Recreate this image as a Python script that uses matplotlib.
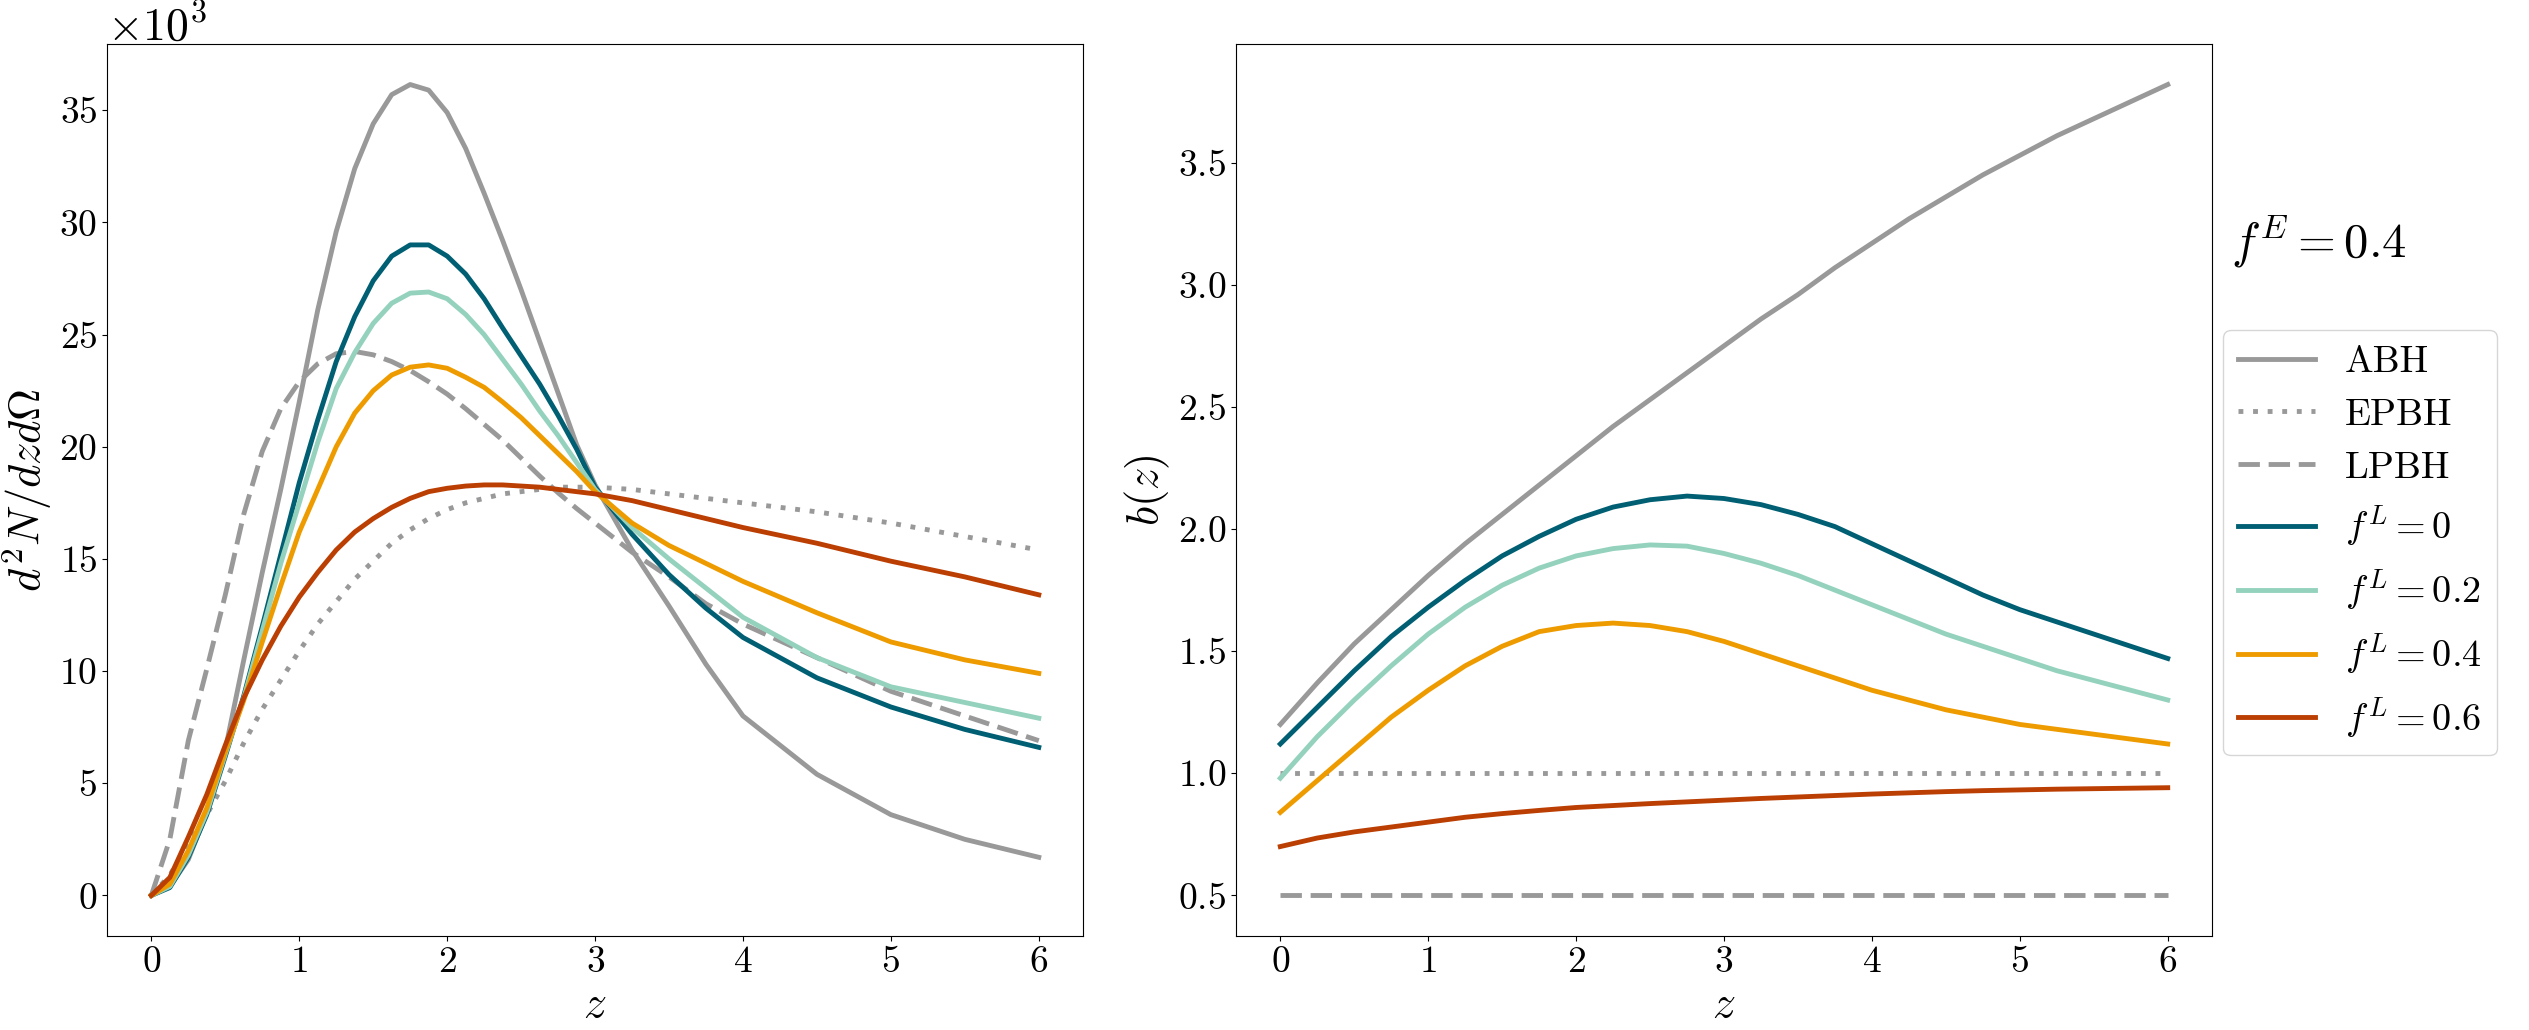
import matplotlib
matplotlib.use("Agg")
import matplotlib.pyplot as plt
import numpy as np

plt.rcParams['font.family'] = 'serif'
plt.rcParams['font.serif'] = ['cmr10']
plt.rcParams['mathtext.fontset'] = 'cm'
plt.rcParams['axes.formatter.use_mathtext'] = True

# colours
gray = '#999999'
c_f0 = '#005f73'
c_f2 = '#94d2bd'
c_f4 = '#ee9b00'
c_f6 = '#bb3e03'

# left panel: d^2N/dzdOmega in units of 1e3
z_left = [0, 0.125, 0.25, 0.375, 0.5, 0.625, 0.75, 0.875, 1.0, 1.125, 1.25, 1.375,
          1.5, 1.625, 1.75, 1.875, 2.0, 2.125, 2.25, 2.375, 2.5, 2.625, 2.75, 2.875,
          3.0, 3.25, 3.5, 3.75, 4.0, 4.5, 5.0, 5.5, 6.0]
n_abh = [0, 0.4, 1.6, 3.7, 6.5, 10.5, 14.4, 18.1, 22.0, 26.1, 29.6, 32.4,
         34.4, 35.7, 36.15, 35.9, 34.9, 33.3, 31.3, 29.2, 27.0, 24.7, 22.4, 20.1,
         18.3, 15.4, 12.9, 10.3, 8.0, 5.4, 3.6, 2.5, 1.7]
n_epbh = [0, 0.9, 2.3, 3.6, 5.1, 6.8, 8.3, 9.6, 10.9, 12.1, 13.1, 14.1,
          14.9, 15.7, 16.3, 16.8, 17.2, 17.5, 17.7, 17.9, 18.0, 18.1, 18.2, 18.2,
          18.2, 18.1, 17.9, 17.7, 17.5, 17.1, 16.6, 16.0, 15.4]
n_lpbh = [0, 2.5, 6.9, 10.1, 13.4, 17.0, 19.8, 21.7, 22.9, 23.7, 24.15, 24.25,
          24.1, 23.8, 23.4, 22.9, 22.35, 21.7, 21.0, 20.3, 19.5, 18.7, 17.95, 17.25,
          16.6, 15.3, 14.2, 13.0, 12.1, 10.6, 9.1, 8.0, 6.9]
n_f0 = [0, 0.35, 1.7, 3.6, 6.2, 8.9, 12.0, 15.2, 18.4, 21.2, 23.8, 25.8,
        27.4, 28.5, 29.0, 29.0, 28.5, 27.7, 26.6, 25.3, 24.05, 22.8, 21.4, 19.9,
        18.2, 16.1, 14.3, 12.8, 11.5, 9.7, 8.4, 7.4, 6.6]
n_f2 = [0, 0.4, 1.8, 3.7, 6.3, 8.8, 11.8, 14.8, 17.5, 20.2, 22.6, 24.2,
        25.5, 26.4, 26.85, 26.9, 26.6, 25.9, 25.0, 23.9, 22.8, 21.6, 20.5, 19.3,
        18.1, 16.4, 15.0, 13.7, 12.4, 10.6, 9.3, 8.6, 7.9]
n_f4 = [0, 0.5, 2.0, 3.9, 6.4, 8.7, 11.3, 13.8, 16.2, 18.1, 20.0, 21.5,
        22.5, 23.2, 23.55, 23.65, 23.5, 23.1, 22.65, 22.0, 21.3, 20.5, 19.7, 18.9,
        18.0, 16.6, 15.6, 14.8, 14.0, 12.6, 11.3, 10.5, 9.9]
n_f6 = [0, 0.8, 2.6, 4.5, 6.7, 8.8, 10.5, 12.0, 13.3, 14.4, 15.4, 16.2,
        16.8, 17.3, 17.7, 18.0, 18.15, 18.25, 18.3, 18.3, 18.25, 18.2, 18.1, 18.0,
        17.9, 17.6, 17.2, 16.8, 16.4, 15.7, 14.9, 14.2, 13.4]

# right panel: bias b(z)
z_right = [0, 0.25, 0.5, 0.75, 1.0, 1.25, 1.5, 1.75, 2.0, 2.25, 2.5, 2.75, 3.0,
           3.25, 3.5, 3.75, 4.0, 4.25, 4.5, 4.75, 5.0, 5.25, 5.5, 5.75, 6.0]
b_abh = [1.20, 1.37, 1.53, 1.67, 1.81, 1.94, 2.06, 2.18, 2.30, 2.42, 2.53, 2.64, 2.75,
         2.86, 2.96, 3.07, 3.17, 3.27, 3.36, 3.45, 3.53, 3.61, 3.68, 3.75, 3.82]
b_epbh = [1.0] * len(z_right)
b_lpbh = [0.5] * len(z_right)
b_f0 = [1.12, 1.27, 1.42, 1.56, 1.68, 1.79, 1.89, 1.97, 2.04, 2.09, 2.12, 2.135, 2.125,
        2.10, 2.06, 2.01, 1.94, 1.87, 1.80, 1.73, 1.67, 1.62, 1.57, 1.52, 1.47]
b_f2 = [0.98, 1.15, 1.30, 1.44, 1.57, 1.68, 1.77, 1.84, 1.89, 1.92, 1.935, 1.93, 1.90,
        1.86, 1.81, 1.75, 1.69, 1.63, 1.57, 1.52, 1.47, 1.42, 1.38, 1.34, 1.30]
b_f4 = [0.84, 0.97, 1.10, 1.23, 1.34, 1.44, 1.52, 1.58, 1.605, 1.615, 1.605, 1.58, 1.54,
        1.49, 1.44, 1.39, 1.34, 1.30, 1.26, 1.23, 1.20, 1.18, 1.16, 1.14, 1.12]
b_f6 = [0.70, 0.735, 0.76, 0.78, 0.80, 0.82, 0.835, 0.848, 0.86, 0.868, 0.876, 0.883, 0.89,
        0.897, 0.903, 0.909, 0.915, 0.92, 0.925, 0.929, 0.932, 0.935, 0.937, 0.939, 0.941]

lw = 3.5
fs = 27
dotted = (0, (1, 2))
dashed = (0, (4.4, 1.8))

fig = plt.figure(figsize=(25.29, 10.30), dpi=100)
ax1 = fig.add_axes([0.0423, 0.0913, 0.386, 0.866])
ax2 = fig.add_axes([0.4887, 0.0913, 0.386, 0.866])

# left panel
scale = 1e3
ax1.plot(z_left, np.array(n_abh) * scale, color=gray, lw=lw, ls='-')
ax1.plot(z_left, np.array(n_epbh) * scale, color=gray, lw=lw, ls=dotted)
ax1.plot(z_left, np.array(n_lpbh) * scale, color=gray, lw=lw, ls=dashed)
ax1.plot(z_left, np.array(n_f0) * scale, color=c_f0, lw=lw)
ax1.plot(z_left, np.array(n_f2) * scale, color=c_f2, lw=lw)
ax1.plot(z_left, np.array(n_f4) * scale, color=c_f4, lw=lw)
ax1.plot(z_left, np.array(n_f6) * scale, color=c_f6, lw=lw)
ax1.ticklabel_format(style='sci', axis='y', scilimits=(3, 3))
ax1.yaxis.get_offset_text().set_fontsize(33)
ax1.set_xlabel(r'$z$', fontsize=33)
ax1.set_ylabel(r'$d^2N/dzd\Omega$', fontsize=32)
ax1.tick_params(labelsize=fs)

# right panel
ax2.plot(z_right, b_abh, color=gray, lw=lw, ls='-', label='ABH')
ax2.plot(z_right, b_epbh, color=gray, lw=lw, ls=dotted, label='EPBH')
ax2.plot(z_right, b_lpbh, color=gray, lw=lw, ls=dashed, label='LPBH')
ax2.plot(z_right, b_f0, color=c_f0, lw=lw, label=r'$f^L=0$')
ax2.plot(z_right, b_f2, color=c_f2, lw=lw, label=r'$f^L=0.2$')
ax2.plot(z_right, b_f4, color=c_f4, lw=lw, label=r'$f^L=0.4$')
ax2.plot(z_right, b_f6, color=c_f6, lw=lw, label=r'$f^L=0.6$')
ax2.set_xlabel(r'$z$', fontsize=33)
ax2.set_ylabel(r'$b(z)$', fontsize=32)
ax2.tick_params(labelsize=fs)

fig.legend(*ax2.get_legend_handles_labels(), loc='upper left',
           bbox_to_anchor=(2223 / 2529, 1 - 330 / 1030), borderaxespad=0,
           fontsize=27.5, labelspacing=0.5)
fig.text(2231 / 2529, 1 - 242 / 1030, r'$f^E=0.4$', fontsize=35, va='center')

fig.savefig('out.png', dpi=100)
